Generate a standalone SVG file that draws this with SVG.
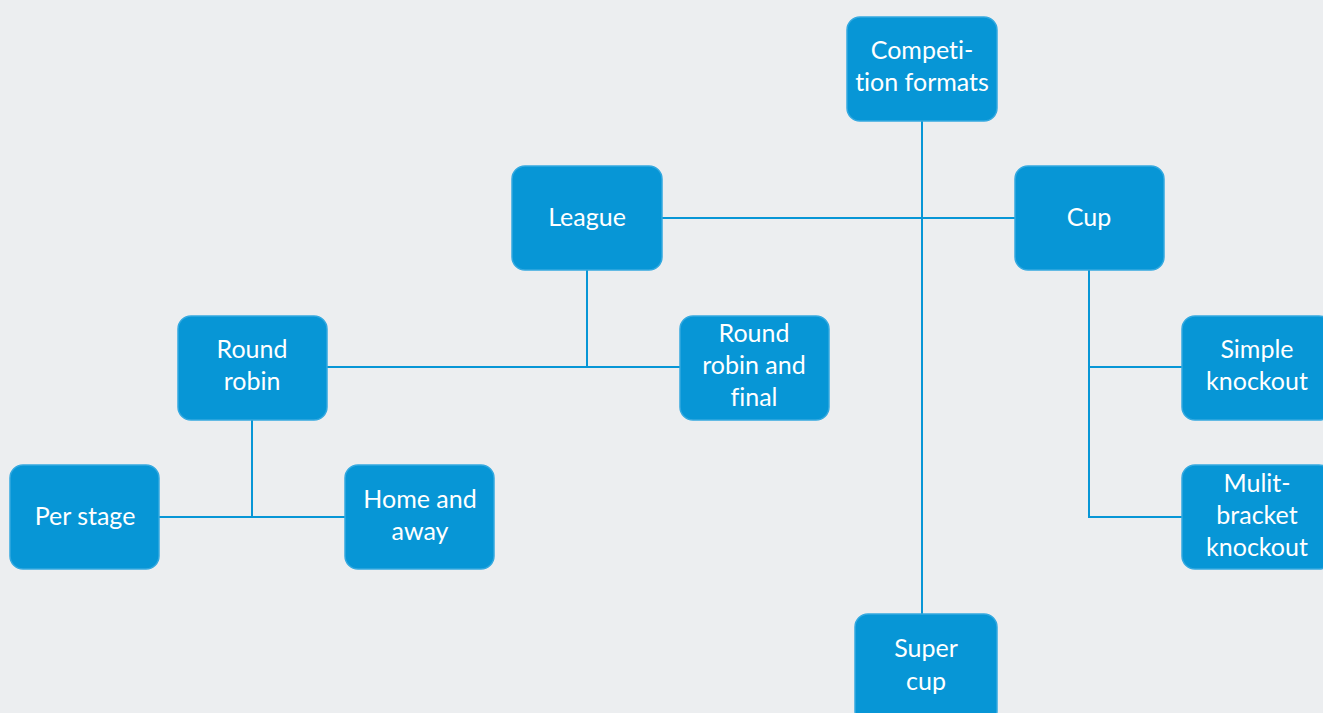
<svg xmlns="http://www.w3.org/2000/svg" width="1323" height="713" viewBox="0 0 1323 713">
<style>
.n rect{fill:#0796d6;stroke:#34a9e0;stroke-width:1.5}
.n text{fill:#ffffff;font-family:Lato,"Open Sans",sans-serif;font-size:25px;text-anchor:middle;font-variant-ligatures:none}
.c line{stroke:#0796d6;stroke-width:2}
</style>
<rect width="1323" height="713" fill="#eceef0"/>
<g class="c">
<line x1="922" y1="121" x2="922" y2="614"/>
<line x1="662" y1="218" x2="1015" y2="218"/>
<line x1="587" y1="270" x2="587" y2="367"/>
<line x1="327" y1="367" x2="680" y2="367"/>
<line x1="252" y1="420" x2="252" y2="517"/>
<line x1="159" y1="517" x2="345" y2="517"/>
<line x1="1089" y1="270" x2="1089" y2="517"/>
<line x1="1089" y1="367" x2="1182" y2="367"/>
<line x1="1088" y1="517" x2="1182" y2="517"/>
</g>
<g id="competition" class="n"><rect x="847" y="17" width="150" height="104" rx="13"/><text x="922" y="59">Competi-</text><text x="922" y="91">tion formats</text></g>
<g id="league" class="n"><rect x="512" y="166" width="150" height="104" rx="13"/><text x="587" y="226">League</text></g>
<g id="cup" class="n"><rect x="1015" y="166" width="149" height="104" rx="13"/><text x="1089" y="226">Cup</text></g>
<g id="roundrobin" class="n"><rect x="178" y="316" width="149" height="104" rx="13"/><text x="252" y="358">Round</text><text x="252" y="390">robin</text></g>
<g id="rrfinal" class="n"><rect x="680" y="316" width="149" height="104" rx="13"/><text x="754" y="342">Round</text><text x="754" y="374">robin and</text><text x="754" y="406">final</text></g>
<g id="simple" class="n"><rect x="1182" y="316" width="150" height="104" rx="13"/><text x="1257" y="358">Simple</text><text x="1257" y="390">knockout</text></g>
<g id="perstage" class="n"><rect x="10" y="465" width="149" height="104" rx="13"/><text x="85" y="525">Per stage</text></g>
<g id="homeaway" class="n"><rect x="345" y="465" width="149" height="104" rx="13"/><text x="420" y="508">Home and</text><text x="420" y="540">away</text></g>
<g id="multi" class="n"><rect x="1182" y="465" width="150" height="104" rx="13"/><text x="1257" y="492">Mulit-</text><text x="1257" y="524">bracket</text><text x="1257" y="556">knockout</text></g>
<g id="supercup" class="n"><rect x="855" y="614" width="142" height="110" rx="13"/><text x="926" y="657">Super</text><text x="926" y="690">cup</text></g>
</svg>
